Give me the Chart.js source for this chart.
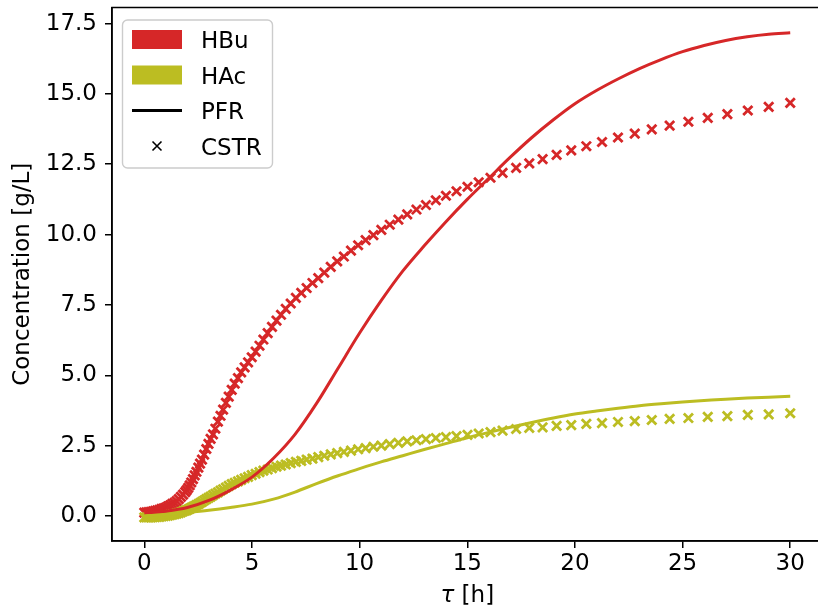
<!DOCTYPE html>
<html>
<head>
<meta charset="utf-8">
<title>HBu / HAc concentration vs residence time</title>
<script src="https://cdn.jsdelivr.net/npm/chart.js@4/dist/chart.umd.min.js"></script>
<style>
  html, body { margin: 0; padding: 0; background: #fff; overflow: hidden; }
  #wrap { width: 818px; height: 608px; }
</style>
</head>
<body>
<div id="wrap"><canvas id="conc" width="818" height="608"></canvas></div>
<script>
// --- data ---
// PFR: residence time [h]
const pfrTau = [0, 1, 2, 3, 4, 5, 6, 7, 8, 9, 10, 11, 12, 13, 14, 15,
                16, 17, 18, 19, 20, 21, 22, 23, 24, 25, 26, 27, 28, 29, 30];
const pfrHBu = [0.10, 0.17, 0.30, 0.55, 0.92, 1.38, 2.05, 2.90, 4.00, 5.25, 6.50,
                7.65, 8.70, 9.60, 10.45, 11.25, 12.00, 12.75, 13.45, 14.08, 14.65,
                15.12, 15.53, 15.90, 16.22, 16.50, 16.72, 16.90, 17.03, 17.12, 17.17];
const pfrHAc = [0.00, 0.05, 0.12, 0.20, 0.30, 0.42, 0.60, 0.85, 1.15, 1.43, 1.68,
                1.92, 2.14, 2.36, 2.57, 2.78, 2.97, 3.15, 3.32, 3.48, 3.62,
                3.73, 3.83, 3.92, 3.99, 4.05, 4.10, 4.15, 4.19, 4.22, 4.25];

// CSTR: one point per steady state
const cstrTau = [
  0, 0.1, 0.2, 0.3, 0.4, 0.5, 0.6, 0.7, 0.8, 0.9,
  1.0, 1.1, 1.2, 1.3, 1.4, 1.5, 1.6, 1.7, 1.8, 1.9,
  1.97, 2.04, 2.11, 2.18, 2.26, 2.34, 2.42, 2.51, 2.59, 2.68,
  2.78, 2.88, 2.98, 3.08, 3.19, 3.30, 3.42, 3.54, 3.66, 3.79,
  3.92, 4.06, 4.20, 4.35, 4.50, 4.66, 4.82, 4.99, 5.17, 5.35,
  5.53, 5.73, 5.93, 6.14, 6.35, 6.57, 6.80, 7.04, 7.29, 7.54,
  7.81, 8.08, 8.36, 8.66, 8.96, 9.27, 9.60, 9.93, 10.28, 10.64,
  11.01, 11.40, 11.80, 12.21, 12.64, 13.08, 13.54, 14.01, 14.50, 15.01,
  15.53, 16.08, 16.64, 17.27, 17.88, 18.50, 19.15, 19.83, 20.53, 21.26,
  22.00, 22.78, 23.57, 24.40, 25.27, 26.17, 27.08, 28.03, 29.00, 30.00
];
const cstrHBu = [
  0.12, 0.13, 0.14, 0.15, 0.16, 0.18, 0.20, 0.22, 0.25, 0.27,
  0.30, 0.34, 0.38, 0.43, 0.47, 0.53, 0.60, 0.68, 0.76, 0.85,
  0.92, 1.00, 1.09, 1.19, 1.31, 1.44, 1.57, 1.72, 1.86, 2.00,
  2.18, 2.38, 2.56, 2.74, 2.90, 3.10, 3.35, 3.56, 3.78, 4.02,
  4.24, 4.48, 4.70, 4.90, 5.10, 5.28, 5.46, 5.64, 5.84, 6.05,
  6.27, 6.50, 6.72, 6.94, 7.15, 7.36, 7.55, 7.75, 7.93, 8.10,
  8.28, 8.45, 8.65, 8.85, 9.05, 9.22, 9.43, 9.62, 9.80, 9.98,
  10.17, 10.35, 10.53, 10.72, 10.89, 11.05, 11.22, 11.38, 11.54, 11.70,
  11.86, 12.02, 12.19, 12.37, 12.53, 12.68, 12.83, 12.99, 13.14, 13.29,
  13.45, 13.59, 13.74, 13.87, 14.01, 14.15, 14.28, 14.41, 14.54, 14.68
];
const cstrHAc = [
  -0.05, -0.05, -0.05, -0.05, -0.04, -0.04, -0.03, -0.03, -0.02, -0.01,
  0.00, 0.01, 0.03, 0.05, 0.06, 0.08, 0.10, 0.13, 0.16, 0.19,
  0.21, 0.23, 0.26, 0.29, 0.32, 0.35, 0.39, 0.42, 0.46, 0.50,
  0.55, 0.60, 0.64, 0.69, 0.74, 0.79, 0.84, 0.90, 0.95, 1.01,
  1.07, 1.13, 1.18, 1.23, 1.28, 1.34, 1.39, 1.45, 1.50, 1.56,
  1.61, 1.65, 1.70, 1.75, 1.79, 1.83, 1.88, 1.92, 1.96, 2.00,
  2.04, 2.09, 2.14, 2.19, 2.23, 2.28, 2.32, 2.37, 2.41, 2.46,
  2.50, 2.55, 2.60, 2.65, 2.69, 2.73, 2.77, 2.80, 2.84, 2.88,
  2.93, 2.98, 3.03, 3.09, 3.13, 3.15, 3.20, 3.23, 3.27, 3.30,
  3.34, 3.37, 3.41, 3.45, 3.48, 3.52, 3.55, 3.59, 3.61, 3.65
];

const xTicks = [0, 5, 10, 15, 20, 25, 30];
const yTicks = [0, 2.5, 5, 7.5, 10, 12.5, 15, 17.5];

const RED = '#d62728';
const OLIVE = '#bcbd22';
const FONT = "'DejaVu Sans', sans-serif";
const FS = 23;

const pts = (xs, ys) => xs.map((x, i) => ({ x: x, y: ys[i] }));

// stop the scales from reserving room for half-labels at the ends
const noEdgePad = s => { s.paddingTop = 0; s.paddingBottom = 0; s.paddingLeft = 0; s.paddingRight = 0; };

// frame (right side runs past the canvas edge) + legend box + mixed-style x label
const decorations = {
  id: 'decorations',
  afterDraw(chart) {
    const ctx = chart.ctx;
    const a = chart.chartArea;
    ctx.save();
    ctx.strokeStyle = '#000';
    ctx.lineWidth = 1.5;
    ctx.strokeRect(a.left, a.top, a.right - a.left + 10, a.bottom - a.top);

    // legend frame
    const bx = 122.5, by = 20, bw = 150, bh = 148, r = 5;
    ctx.beginPath();
    ctx.roundRect(bx, by, bw, bh, r);
    ctx.fillStyle = 'rgba(255,255,255,0.8)';
    ctx.fill();
    ctx.strokeStyle = '#cccccc';
    ctx.lineWidth = 1.4;
    ctx.stroke();

    const rows = [39.5, 75, 110.5, 146];
    const hx = 132, hw = 50;
    ctx.fillStyle = RED;
    ctx.fillRect(hx, rows[0] - 9.5, hw, 19);
    ctx.fillStyle = OLIVE;
    ctx.fillRect(hx, rows[1] - 9.5, hw, 19);
    ctx.strokeStyle = '#000';
    ctx.lineWidth = 3;
    ctx.beginPath();
    ctx.moveTo(hx, rows[2]);
    ctx.lineTo(hx + hw, rows[2]);
    ctx.stroke();
    const cx = hx + hw / 2, cy = rows[3], d = 4.5;
    ctx.lineWidth = 1.6;
    ctx.beginPath();
    ctx.moveTo(cx - d, cy - d); ctx.lineTo(cx + d, cy + d);
    ctx.moveTo(cx - d, cy + d); ctx.lineTo(cx + d, cy - d);
    ctx.stroke();

    ctx.fillStyle = '#000';
    ctx.font = FS + 'px ' + FONT;
    ctx.textBaseline = 'alphabetic';
    ctx.textAlign = 'left';
    ['HBu', 'HAc', 'PFR', 'CSTR'].forEach((t, i) => ctx.fillText(t, 201, rows[i] + 8.6));

    // x label: italic tau, upright unit, centred on the full axis span
    const tau = 'τ', unit = ' [h]';
    ctx.font = 'italic ' + FS + 'px ' + FONT;
    const w1 = ctx.measureText(tau).width;
    ctx.font = FS + 'px ' + FONT;
    const w2 = ctx.measureText(unit).width;
    const mid = chart.scales.x.getPixelForValue(15);
    const x0 = mid - (w1 + w2) / 2;
    ctx.font = 'italic ' + FS + 'px ' + FONT;
    ctx.fillText(tau, x0, 602);
    ctx.font = FS + 'px ' + FONT;
    ctx.fillText(unit, x0 + w1, 602);
    ctx.restore();
  }
};

const axisGrid = { drawOnChartArea: false, drawTicks: true, tickLength: 7, color: '#000', lineWidth: 1.5 };

new Chart(document.getElementById('conc'), {
  type: 'scatter',
  data: {
    datasets: [
      {
        label: 'HAc PFR', data: pts(pfrTau, pfrHAc), showLine: true,
        borderColor: OLIVE, borderWidth: 3, pointRadius: 0,
        cubicInterpolationMode: 'monotone', order: 0
      },
      {
        label: 'HBu PFR', data: pts(pfrTau, pfrHBu), showLine: true,
        borderColor: RED, borderWidth: 3, pointRadius: 0,
        cubicInterpolationMode: 'monotone', order: 1
      },
      {
        label: 'HAc CSTR', data: pts(cstrTau, cstrHAc), showLine: false,
        pointStyle: 'crossRot', pointRadius: 6.5, borderWidth: 2.8,
        borderColor: OLIVE, backgroundColor: OLIVE, order: 2
      },
      {
        label: 'HBu CSTR', data: pts(cstrTau, cstrHBu), showLine: false,
        pointStyle: 'crossRot', pointRadius: 6.5, borderWidth: 2.8,
        borderColor: RED, backgroundColor: RED, order: 3
      }
    ]
  },
  options: {
    responsive: false,
    animation: false,
    layout: { autoPadding: false, padding: { left: 0, right: 0, top: 7.5, bottom: 0 } },
    plugins: { legend: { display: false }, tooltip: { enabled: false } },
    scales: {
      x: {
        type: 'linear', min: -1.5, max: 31.29,
        afterBuildTicks: s => { s.ticks = xTicks.map(v => ({ value: v })); },
        afterFit: s => { s.height = 67; noEdgePad(s); },
        ticks: { color: '#000', font: { family: FONT, size: FS }, padding: 2, maxRotation: 0 },
        grid: axisGrid,
        border: { color: '#000', width: 1.5 },
        title: { display: false }
      },
      y: {
        type: 'linear', min: -0.89, max: 18.07,
        afterBuildTicks: s => { s.ticks = yTicks.map(v => ({ value: v })); },
        afterFit: s => { s.width = 112; noEdgePad(s); },
        ticks: {
          color: '#000', font: { family: FONT, size: FS }, padding: 8,
          callback: v => v.toFixed(1)
        },
        grid: axisGrid,
        border: { color: '#000', width: 1.5 },
        title: {
          display: true, text: 'Concentration [g/L]', color: '#000',
          font: { family: FONT, size: FS }, padding: { top: 9, bottom: 0 }
        }
      }
    }
  },
  plugins: [decorations]
});
</script>
</body>
</html>
